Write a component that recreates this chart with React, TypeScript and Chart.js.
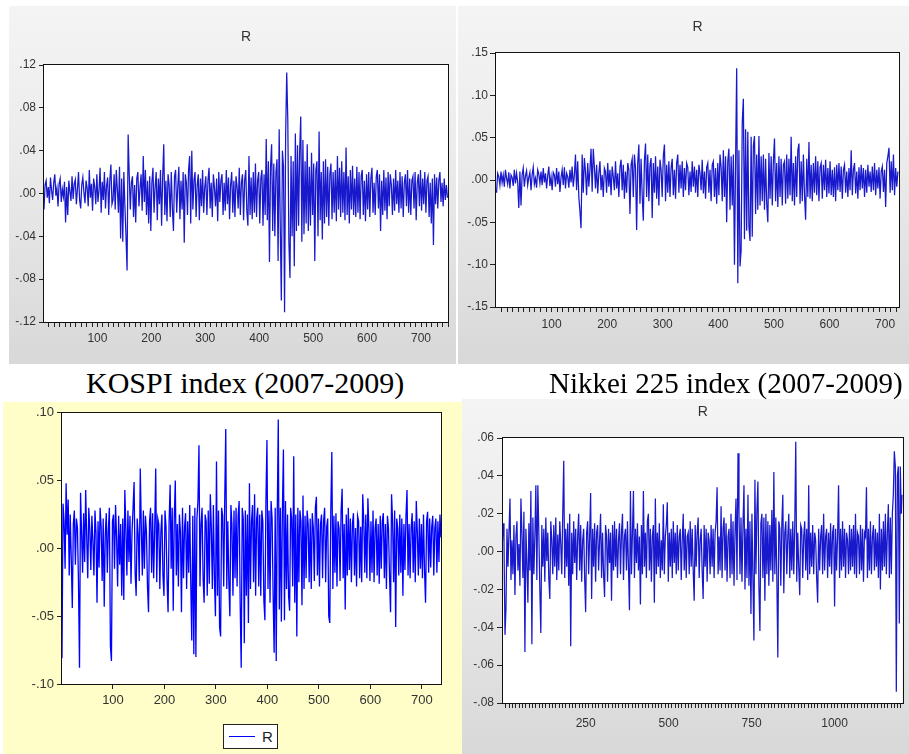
import React, { useEffect, useRef } from "react";
import { Chart, registerables } from "chart.js";

Chart.register(...registerables);

// ---------- DATA (daily returns R, in thousandths: 12 = .012) ----------
// Top-left panel (KOSPI index 2007-2009): one value every 2nd observation, from obs 1
const kospiStart = 1;
const kospiStep = 2;
const kospiR = [
  -15, 8, 12, -4, 6, -9, 15, 3, -6, 10,
  18, -2, 5, -12, 9, 14, -8, 4, -3, 11,
  -27, 6, -20, 12, 2, -7, 16, -5, 9, 13,
  -10, 4, 20, -6, -14, 8, 15, 1, -9, 12,
  5, -12, 22, -4, 9, -16, 14, 6, -10, 18,
  -8, 3, 24, -18, 11, -6, 20, -14, 7, 15,
  -20, 12, 27, -10, -6, 18, -15, 22, 4, -18,
  25, -42, 14, -45, 20, -12, -40, -72, 55, 18,
  -15, 10, 16, -22, 8, -27, 14, 20, -12, 5,
  18, -16, 35, -8, 22, -20, 12, -28, 16, -35,
  10, 24, -18, 6, 20, -25, 14, -10, 22, -30,
  15, 46, -20, 12, -26, 18, 8, -22, 20, -14,
  -35, 16, 22, -18, 6, 25, -24, 12, -15, 20,
  -46, 18, 10, -20, 22, 35, -28, 40, -15, 12,
  20, -22, 8, 18, -25, 14, -12, 22, -18, 6,
  16, -20, 12, 24, -14, 10, -22, 18, 5, -12,
  14, -26, 20, -8, 12, 18, -20, 10, -16, 22,
  -10, 15, -24, 8, 20, -18, 12, -22, 16, 6,
  -14, 24, -20, 10, 18, -25, 12, 22, -16, -30,
  35, -20, 15, -24, 20, -18, 28, -22, 12, 20,
  -28, 14, 22, -30, 18, -20, 51, -25, 30, -64,
  25, 46, -35, 28, -40, 20, 32, -63, 60, -30,
  -100, 40, 25, -111, 55, 113, 68, -45, -79, 35,
  -40, 30, -68, 56, -35, 45, -30, 40, 72, -45,
  50, -38, 30, -28, 46, -35, 25, -30, 38, -20,
  28, -63, 22, 30, -40, 58, -25, 20, -43, 30,
  -28, 32, -22, 25, -30, 18, 28, -24, 20, -18,
  22, -26, 35, -15, 24, -22, 30, -18, 20, -25,
  43, -20, 16, -28, 22, -15, 26, -20, 14, -22,
  25, -18, 20, -24, 16, 22, -20, 12, -26, 18,
  -15, 20, -22, 14, 24, -18, 10, -20, 16, 22,
  -14, 18, -35, 12, -20, 22, -16, 15, -24, 20,
  -12, 18, 8, -20, 14, -16, 22, -10, 12, -18,
  20, -14, 16, -22, 10, 18, -12, 22, -18, 14,
  -20, 12, 16, -14, 20, -25, 10, 18, -12, 22,
  -16, 14, -10, 20, -18, 12, 16, -22, 10, -28,
  14, -48, 18, -10, 15, -14, 12, 20, -8, 10,
  -12, 14, -6, 8, -4,
];

// Top-right panel (Nikkei 225 index 2007-2009)
const nikkeiStart = 1;
const nikkeiStep = 2;
const nikkeiR = [
  -15, 8, 4, -6, 10, -3, 6, -8, 12, 2,
  -5, 9, -10, 6, 3, -7, 12, -4, 8, -2,
  -33, 10, -30, 6, 14, -8, 5, 11, -6, 3,
  9, -12, 6, 15, -5, 2, -9, 12, 7, -4,
  10, -6, 14, -3, 8, -10, 5, 16, -7, 4,
  -12, 9, 6, -8, 14, -5, 10, -14, 3, 12,
  -6, 15, -10, 8, 4, -9, 12, -3, 16, -8,
  6, 30, -12, 22, -20, -37, -57, 30, -15, 26,
  10, -18, 20, -8, 12, 37, -14, 37, 15, -10,
  18, -16, 8, 22, -12, 6, -20, 14, 10, -15,
  20, -8, 12, -18, 16, 4, -12, 22, -10, 8,
  -20, 15, 24, -12, 18, -22, 10, -15, 20, 12,
  -40, 18, 25, -20, 30, 14, -59, 20, 42, -28,
  25, -18, -48, 22, 43, -20, 30, -25, 18, 26,
  -45, 20, -15, 28, -22, 16, -30, 24, 12, -20,
  28, 42, -25, 18, -15, 22, -20, 14, 25, -18,
  12, -22, 20, 30, -15, 18, -10, 22, -20, 14,
  -12, 20, 15, -18, 10, -14, 22, -8, 16, -15,
  12, -20, 18, 8, -12, 24, -16, 10, -22, 15,
  20, -15, 12, -25, 18, 22, -20, 14, -28, 20,
  -18, 30, 15, -25, 35, -20, 28, -50, 22, 37,
  -35, 28, -30, 30, -100, 20, 132, -122, 35, -102,
  -83, 68, 96, -70, 60, -60, 57, -55, -72, 51,
  -67, 40, 52, -40, 30, -35, 52, -30, 28, -25,
  30, -35, 25, -28, -50, 32, -22, 28, -30, 22,
  49, -25, 20, -32, 28, -20, 25, -30, 18, 22,
  -28, 30, -22, 25, -18, 51, -25, 20, -30, 28,
  -20, 35, 43, -28, 22, -25, 30, -18, -47, 25,
  -20, 45, -22, 18, -25, 20, -15, 28, -18, 22,
  -25, 15, 20, -22, 18, -12, 24, -20, 14, -16,
  22, -18, 12, -20, 15, -25, 18, -12, 20, -14,
  16, -22, 12, 18, -15, 10, -20, 14, -12, 35,
  -18, 12, 20, -16, 10, -22, 15, -12, 18, -10,
  14, -20, 12, -15, 18, -8, 10, -14, 16, -12,
  20, -18, 12, -10, 15, -22, 10, 16, -14, 12,
  -32, 20, 28, 38, -15, 22, -12, 30, -18, 14,
  -8, 10,
];

// Bottom-left panel (R, yellow background)
const bottomLeftStart = 1;
const bottomLeftStep = 2;
const bottomLeftR = [
  -81, 33, 20, -15, 48, 10, 36, -20, 25, -8,
  -44, 18, 28, -12, 22, 15, -25, -88, 41, 12,
  -18, 26, -10, 43, 8, -22, 30, 14, -16, 24,
  5, -20, 28, 12, -40, 20, -14, 30, 16, -24,
  22, -43, 10, 26, -18, 14, 30, -72, -83, 20,
  25, -15, 32, 8, -28, 24, -12, 18, -35, 22,
  -38, 43, 15, -20, 28, -10, 24, -26, 12, 30,
  49, -18, -35, 22, 10, -24, 59, 16, -20, 28,
  -15, 24, 12, -28, -47, 20, 30, -18, 26, -22,
  14, 59, -25, 22, 18, -30, 12, 25, -20, -35,
  28, 16, -24, -47, 20, 47, -15, 30, -46, 22,
  50, -20, 18, -28, 25, 12, -47, 30, -22, 16,
  26, -30, 20, -18, 32, -25, -68, 24, -78, 30,
  -80, 22, 35, 76, -28, 18, 30, -22, -40, 25,
  20, -35, 28, -26, 40, 15, -30, 32, -22, -50,
  64, -35, 28, -58, -65, 30, 24, -28, 35, 88,
  -30, 20, -25, -50, 32, 18, -35, 28, -22, 30,
  -28, 24, 35, -40, -88, 30, 22, -70, 28, -35,
  25, -55, 48, -30, 20, 32, -25, 40, -35, 22,
  30, -28, 25, -35, 28, 20, -38, -53, 35, 80,
  -30, 28, -40, 35, 22, -35, -77, 30, -83, 25,
  95, -45, 30, -54, 28, 73, -53, 35, -30, 25,
  -35, -46, 30, 22, -28, 68, -40, 25, -65, 30,
  -25, 28, 20, -42, 39, -30, 24, -22, 28, 18,
  -25, 22, -30, 26, 15, -24, 30, 38, -20, 22,
  -28, 18, 25, -22, 20, 30, -25, 16, 22, -50,
  -55, 28, 71, -30, 24, -18, 26, -28, 20, 15,
  -24, 28, 44, -22, 18, -45, 25, -20, 30, -16,
  22, -25, 18, 26, -20, 15, -28, 24, 20, -22,
  16, -25, 40, 20, -18, 25, -22, 37, 15, -24,
  20, -18, 28, -25, 15, 22, -20, 18, -26, 24,
  -15, 20, 26, -22, 18, -30, 24, 15, -20, -47,
  40, 20, -25, 28, -58, 22, 15, -20, 25, -18,
  22, -35, 18, -16, 24, 43, -20, 18, -22, 15,
  26, -18, 20, -25, 35, 12, -20, 22, -15, 18,
  -22, 25, -16, -40, 20, 27, -18, 22, -14, 16,
  24, -20, 15, 22, -18, 20, -10, 25, 8,
];

// Bottom-right panel (R, ~1200 observations): one value every 3rd observation
const bottomRightStart = 1;
const bottomRightStep = 3;
const bottomRightR = [
  15, 5, -44, -30, 12, -8, 10, 28, -15, 6,
  -12, 14, -23, 8, 16, -10, 4, -18, 28, 10,
  -14, 21, -53, 12, -6, -27, 15, -10, 32, -49,
  18, -12, 8, 35, -15, 35, 10, -20, -43, 14,
  -8, 12, -16, 18, -5, 10, -14, -25, 16, 6,
  -12, 14, -8, 18, -15, 9, -10, 16, 4, -12,
  20, 48, -14, 12, -8, 15, -18, 20, -50, 10,
  -12, 16, -6, 12, -15, 8, 20, -10, 14, -16,
  6, 12, -14, -32, 10, 16, -12, 8, 31, -25,
  12, -8, 15, -16, 10, 14, -10, 6, 20, -14,
  10, -12, -24, 14, 8, -16, 12, -6, 10, -26,
  14, -10, 16, -8, 12, -14, 6, 15, -12, 10,
  20, -15, 8, 12, -10, 16, -8, -31, 32, -12,
  10, 32, -14, 12, -6, 15, -10, 8, -28, 14,
  -12, 32, -8, 10, -14, 16, 20, -10, 12, -16,
  8, 14, -27, 28, -12, 10, -8, 15, -14, 6,
  -10, 25, -12, 8, 14, 26, -16, 10, -8, 12,
  -14, 16, -6, 10, -12, 14, -10, 8, 12, -15,
  6, 20, -10, 12, -14, 8, 10, -12, 16, -8,
  12, -10, -26, 14, -8, 10, 18, -14, 6, 12,
  -10, -25, 14, -8, 12, -16, 10, 6, -12, 14,
  -8, 12, -14, 10, 16, 34, -12, 8, -10, 24,
  -14, 12, 18, -10, 15, -16, 8, 12, -14, 20,
  -12, 16, -18, 10, 28, -15, 52, 20, -12, 18,
  -16, 14, 35, -20, 12, -14, 30, -18, 16, -33,
  20, -15, -47, 38, -12, 22, 37, -18, -42, 15,
  20, -14, 18, -26, 20, -12, 16, -18, 14, -10,
  22, -16, 42, -12, 18, -14, -56, 16, 12, -18,
  14, 30, -22, 10, 16, -12, 8, 20, -14, 12,
  -10, 16, -12, 14, 58, -16, 10, -8, -23, 14,
  12, -14, 8, 16, -10, 12, -15, 35, -12, 10,
  -8, 14, -12, 10, 6, -14, -27, 12, -10, 8,
  14, -12, 20, -10, 8, 12, -14, 10, -8, 15,
  -12, 10, 14, -29, 12, -10, 8, 35, -14, 12,
  -10, 16, -8, 12, -14, 10, 6, -12, 14, -10,
  12, -8, 14, -12, 20, -14, 10, 8, -12, 14,
  -10, 12, -16, 10, 8, 34, -14, 12, -10, 16,
  -12, 8, 14, -10, 12, -8, 10, -14, 20, -20,
  12, -10, 16, -8, 20, -12, 10, 25, -14, 18,
  -12, 20, 30, 53, 45, -74, 40, 45, -38, 45,
  20, 30,
];

// ---------- AXES ----------
const kospiYTicks = [-0.12, -0.08, -0.04, 0, 0.04, 0.08, 0.12];
const nikkeiYTicks = [-0.15, -0.1, -0.05, 0, 0.05, 0.1, 0.15];
const bottomLeftYTicks = [-0.1, -0.05, 0, 0.05, 0.1];
const bottomRightYTicks = [-0.08, -0.06, -0.04, -0.02, 0, 0.02, 0.04, 0.06];
const xLabels700 = [100, 200, 300, 400, 500, 600, 700];
const xLabels1000 = [250, 500, 750, 1000];

const captions = ["KOSPI index (2007-2009)", "Nikkei 225 index (2007-2009)"];

const SANS = "'Liberation Sans', Arial, Helvetica, sans-serif";
const SERIF = "'Liberation Serif', 'Times New Roman', Times, serif";

type Spec = {
  left: number; top: number; w: number; h: number;
  values: number[]; start: number; step: number;
  xMin: number; xMax: number; minorStep: number; majors: number[];
  yTicks: number[];
  color: string; lineWidth: number;
  pad: { left: number; right: number; top: number; bottom: number };
  yWidth: number; xHeight: number;
  yTickLen: number; yTickPad: number; xTickLen: number; xTickPad: number;
  fontSize: number;
  title?: { top: number; bottom: number };
};

function fmtY(v: number): string {
  const s = v.toFixed(2);
  return s.replace("0.", ".");
}

const framePlugin = {
  id: "frame",
  beforeDraw(chart: any) {
    const { ctx, chartArea: a } = chart;
    ctx.save();
    ctx.fillStyle = "#ffffff";
    ctx.fillRect(a.left, a.top, a.right - a.left, a.bottom - a.top);
    ctx.restore();
  },
  afterDraw(chart: any) {
    const { ctx, chartArea: a } = chart;
    ctx.save();
    ctx.strokeStyle = "#111";
    ctx.lineWidth = 1;
    ctx.strokeRect(Math.round(a.left) - 0.5, Math.round(a.top) - 0.5, Math.round(a.right - a.left) + 1, Math.round(a.bottom - a.top) + 1);
    ctx.restore();
  },
};

function ReturnChart({ spec }: { spec: Spec }) {
  const ref = useRef<HTMLCanvasElement>(null);
  useEffect(() => {
    const points = spec.values.map((v, i) => ({ x: spec.start + i * spec.step, y: v / 1000 }));
    const xTickValues: number[] = [];
    for (let t = spec.minorStep; t <= spec.xMax; t += spec.minorStep) {
      if (t >= spec.xMin) xTickValues.push(t);
    }
    const chart = new Chart(ref.current as HTMLCanvasElement, {
      type: "line",
      data: {
        datasets: [
          {
            label: "R",
            data: points,
            borderColor: spec.color,
            borderWidth: spec.lineWidth,
            pointRadius: 0,
            tension: 0,
            fill: false,
          },
        ],
      },
      options: {
        animation: false,
        responsive: false,
        maintainAspectRatio: false,
        events: [],
        layout: { padding: spec.pad },
        plugins: {
          legend: { display: false },
          tooltip: { enabled: false },
          title: spec.title
            ? {
                display: true,
                text: "R",
                fullSize: false,
                color: "#333",
                font: { family: SANS, size: 14, weight: "normal" },
                padding: { top: spec.title.top, bottom: spec.title.bottom },
              }
            : { display: false },
        },
        scales: {
          x: {
            type: "linear",
            min: spec.xMin,
            max: spec.xMax,
            border: { display: false },
            grid: {
              display: true,
              drawOnChartArea: false,
              drawTicks: true,
              tickLength: spec.xTickLen,
              color: "#222",
            },
            ticks: {
              autoSkip: false,
              maxRotation: 0,
              includeBounds: false,
              padding: spec.xTickPad,
              color: "#333",
              font: { family: SANS, size: spec.fontSize },
              callback: (v: any) => (spec.majors.includes(Number(v)) ? String(v) : ""),
            },
            afterBuildTicks: (s: any) => {
              s.ticks = xTickValues.map((value) => ({ value }));
            },
            afterFit: (s: any) => {
              s.height = spec.xHeight;
            },
          },
          y: {
            type: "linear",
            min: spec.yTicks[0],
            max: spec.yTicks[spec.yTicks.length - 1],
            border: { display: false },
            grid: {
              display: true,
              drawOnChartArea: false,
              drawTicks: true,
              tickLength: spec.yTickLen,
              color: "#222",
            },
            ticks: {
              autoSkip: false,
              padding: spec.yTickPad,
              color: "#333",
              font: { family: SANS, size: spec.fontSize },
              callback: (v: any) => fmtY(Number(v)),
            },
            afterBuildTicks: (s: any) => {
              s.ticks = spec.yTicks.map((value) => ({ value }));
            },
            afterFit: (s: any) => {
              s.width = spec.yWidth;
            },
          },
        },
      } as any,
      plugins: [framePlugin],
    });
    return () => chart.destroy();
  }, [spec]);
  return (
    <canvas
      ref={ref}
      width={spec.w}
      height={spec.h}
      style={{ position: "absolute", left: spec.left, top: spec.top, width: spec.w, height: spec.h }}
    />
  );
}

const TL: Spec = {
  left: 9, top: 6, w: 447, h: 358,
  values: kospiR, start: kospiStart, step: kospiStep,
  xMin: 1, xMax: 750, minorStep: 10, majors: xLabels700,
  yTicks: kospiYTicks,
  color: "#1818cc", lineWidth: 1.25,
  pad: { left: 5, right: 8, top: 0, bottom: 12 },
  yWidth: 30, xHeight: 30,
  yTickLen: 5, yTickPad: 3, xTickLen: 5, xTickPad: 4,
  fontSize: 12,
  title: { top: 22.6, bottom: 19.6 },
};

const TR: Spec = {
  left: 458, top: 6, w: 451, h: 358,
  values: nikkeiR, start: nikkeiStart, step: nikkeiStep,
  xMin: 0, xMax: 725, minorStep: 10, majors: xLabels700,
  yTicks: nikkeiYTicks,
  color: "#1818cc", lineWidth: 1.25,
  pad: { left: 6, right: 10, top: 0, bottom: 27 },
  yWidth: 32, xHeight: 30,
  yTickLen: 6, yTickPad: 2, xTickLen: 5, xTickPad: 5,
  fontSize: 12,
  title: { top: 12.6, bottom: 17.6 },
};

const BL: Spec = {
  left: 3, top: 402, w: 459, h: 352,
  values: bottomLeftR, start: bottomLeftStart, step: bottomLeftStep,
  xMin: 1, xMax: 737, minorStep: 100, majors: xLabels700,
  yTicks: bottomLeftYTicks,
  color: "#0000ff", lineWidth: 1.3,
  pad: { left: 25, right: 21, top: 10, bottom: 40 },
  yWidth: 34, xHeight: 30,
  yTickLen: 5, yTickPad: 3, xTickLen: 5, xTickPad: 4,
  fontSize: 13,
};

const BR: Spec = {
  left: 462, top: 399, w: 447, h: 355,
  values: bottomRightR, start: bottomRightStart, step: bottomRightStep,
  xMin: 1, xMax: 1205, minorStep: 10, majors: xLabels1000,
  yTicks: bottomRightYTicks,
  color: "#1818cc", lineWidth: 1.25,
  pad: { left: 6, right: 3, top: 0, bottom: 21 },
  yWidth: 35, xHeight: 30,
  yTickLen: 6, yTickPad: 3, xTickLen: 5, xTickPad: 8,
  fontSize: 12,
  title: { top: 4.6, bottom: 17.6 },
};

const grayPanel = "linear-gradient(to bottom, #f4f4f4 0%, #ececec 40%, #d8d8d8 100%)";

export default function App() {
  return (
    <div
      style={{
        position: "absolute",
        left: 0,
        top: 0,
        width: 909,
        height: 754,
        overflow: "hidden",
        background: "#ffffff",
      }}
    >
      {/* panel backgrounds */}
      <div style={{ position: "absolute", left: TL.left, top: TL.top, width: TL.w, height: TL.h, background: grayPanel }} />
      <div style={{ position: "absolute", left: TR.left, top: TR.top, width: TR.w, height: TR.h, background: grayPanel }} />
      <div style={{ position: "absolute", left: BL.left, top: BL.top, width: BL.w, height: BL.h, background: "#fffdc8" }} />
      <div style={{ position: "absolute", left: BR.left, top: BR.top, width: BR.w, height: BR.h, background: grayPanel }} />

      <ReturnChart spec={TL} />
      <ReturnChart spec={TR} />
      <ReturnChart spec={BL} />
      <ReturnChart spec={BR} />

      {/* captions */}
      <div
        style={{
          position: "absolute",
          left: 86,
          top: 368,
          fontFamily: SERIF,
          fontSize: 30,
          lineHeight: "30px",
          color: "#000",
          whiteSpace: "nowrap",
        }}
      >
        {captions[0]}
      </div>
      <div
        style={{
          position: "absolute",
          left: 549,
          top: 369,
          fontFamily: SERIF,
          fontSize: 29,
          lineHeight: "29px",
          color: "#000",
          whiteSpace: "nowrap",
        }}
      >
        {captions[1]}
      </div>

      {/* legend of the bottom-left chart */}
      <div
        style={{
          position: "absolute",
          left: 223,
          top: 724,
          width: 55,
          height: 25,
          boxSizing: "border-box",
          border: "1px solid #222",
          background: "#ffffff",
        }}
      >
        <div style={{ position: "absolute", left: 5, top: 11, width: 26, height: 1, background: "#0000ff" }} />
        <div
          style={{
            position: "absolute",
            left: 38,
            top: 3,
            fontFamily: SANS,
            fontSize: 15,
            lineHeight: "17px",
            color: "#222",
          }}
        >
          R
        </div>
      </div>
    </div>
  );
}
